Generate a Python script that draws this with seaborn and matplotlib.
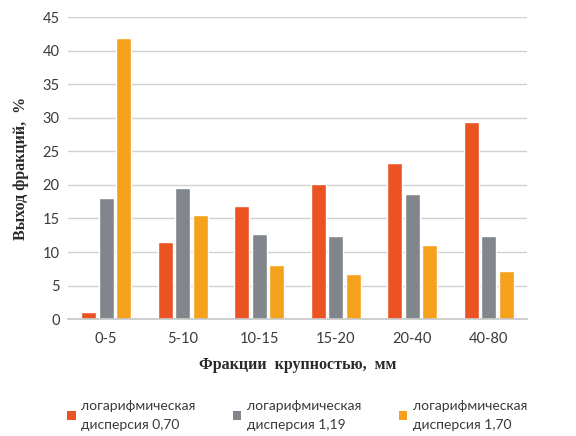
import matplotlib
matplotlib.use("Agg")
import matplotlib.pyplot as plt
import seaborn as sns
import pandas as pd
from matplotlib.patches import Patch

# Fraction sizes and yield of each fraction (%) for three log dispersions
fractions = ["0-5", "5-10", "10-15", "15-20", "20-40", "40-80"]
series_names = ["логарифмическая\nдисперсия 0,70",
                "логарифмическая\nдисперсия 1,19",
                "логарифмическая\nдисперсия 1,70"]
disp_070 = [1.1, 11.5, 16.9, 20.1, 23.2, 29.3]
disp_119 = [18.1, 19.6, 12.7, 12.4, 18.6, 12.4]
disp_170 = [41.8, 15.5, 8.0, 6.7, 11.1, 7.2]
y_ticks = [0, 5, 10, 15, 20, 25, 30, 35, 40, 45]

colors = ["#EC5322", "#80868B", "#F6A11C"]

rows = []
for name, vals in zip(series_names, [disp_070, disp_119, disp_170]):
    for f, v in zip(fractions, vals):
        rows.append({"fraction": f, "series": name, "value": v})
df = pd.DataFrame(rows)

sns.set_theme(style="white")
plt.rcParams["font.family"] = ["Lato", "DejaVu Sans"]

fig = plt.figure(figsize=(5.76, 4.36), dpi=100)
ax = fig.add_axes([0.118, 0.268, 0.797, 0.693])

sns.barplot(data=df, x="fraction", y="value", hue="series", order=fractions,
            hue_order=series_names, palette=colors, width=0.69, gap=0.16,
            saturation=1, errorbar=None, legend=False, ax=ax)

ax.set_ylim(0, 45)
ax.set_yticks(y_ticks)
ax.set_xlim(-0.5, len(fractions) - 0.5)
ax.grid(axis="y", color="#D0D0D0", linewidth=1)
ax.set_axisbelow(True)
for s in ["top", "right", "left"]:
    ax.spines[s].set_visible(False)
ax.spines["bottom"].set_color("#C8C8C8")
ax.tick_params(axis="both", length=0, labelsize=10.5, colors="#3A3A3A", pad=6)
ax.tick_params(axis="x", pad=9)

ax.set_xlabel("Фракции  крупностью,  мм", family="Liberation Serif",
              fontweight="bold", fontsize=11.5, color="#2A2A2A", labelpad=8)
ax.set_ylabel("Выход фракций,  %", family="Liberation Serif",
              fontweight="bold", fontsize=11.5, color="#2A2A2A", labelpad=10)

handles = [Patch(facecolor=c, edgecolor="none") for c in colors]
leg = fig.legend(handles, series_names, loc="center",
                 bbox_to_anchor=(0.516, 0.047), ncol=3, frameon=False,
                 fontsize=10, handlelength=0.6, handleheight=0.6,
                 handletextpad=0.4, columnspacing=2.7, labelcolor="#3A3A3A")
for t in leg.get_texts():
    t.set_linespacing(1.65)

fig.savefig("out.png", dpi=100, facecolor="white")
